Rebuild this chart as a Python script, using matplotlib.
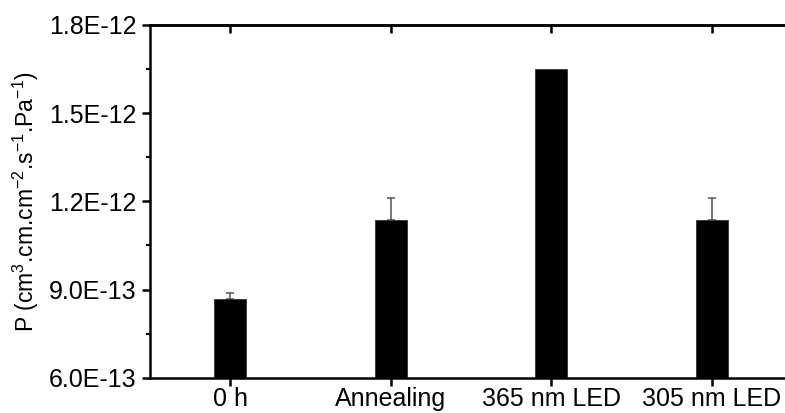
import matplotlib
matplotlib.use('Agg')
import matplotlib.pyplot as plt
from matplotlib.ticker import FixedLocator, FuncFormatter

plt.rcParams['font.family'] = ['Liberation Sans', 'DejaVu Sans']
plt.rcParams['mathtext.fontset'] = 'custom'
plt.rcParams['mathtext.rm'] = 'Liberation Sans'

categories = ['0 h', 'Annealing', '365 nm LED', '305 nm LED']
values = [8.67e-13, 1.137e-12, 1.65e-12, 1.137e-12]
err_upper = [2.0e-14, 7.6e-14, 0.0, 7.6e-14]
yticks = [6e-13, 9e-13, 1.2e-12, 1.5e-12, 1.8e-12]
yminor = [7.5e-13, 1.05e-12, 1.35e-12, 1.65e-12]

fig = plt.figure(figsize=(7.85, 4.13), dpi=100)
ax = fig.add_axes([150 / 785, 35.3 / 413, 642 / 785, 352.7 / 413])

x = list(range(1, len(categories) + 1))
ax.bar(x, values, width=0.2, color='black', edgecolor='#333333', linewidth=0.6, zorder=2)

# only the bars that have an error bar
ex = [xi for xi, e in zip(x, err_upper) if e > 0]
ev = [v for v, e in zip(values, err_upper) if e > 0]
ee = [e for e in err_upper if e > 0]
ax.errorbar(ex, ev, yerr=[[0] * len(ee), ee], fmt='none',
            ecolor='#555555', elinewidth=1.1, capsize=3, capthick=1.1, zorder=1)

ax.set_xlim(0.5, 4.5)
ax.set_ylim(yticks[0], yticks[-1])
ax.set_xticks(x)
ax.set_xticklabels(categories)
ax.yaxis.set_major_locator(FixedLocator(yticks))
ax.yaxis.set_minor_locator(FixedLocator(yminor))
ax.yaxis.set_major_formatter(FuncFormatter(lambda v, p: f'{v:.1E}'))

ax.tick_params(axis='both', which='major', labelsize=18, direction='out', length=6, width=1.8)
ax.tick_params(axis='y', which='minor', direction='out', length=3, width=1.5)
ax.tick_params(axis='x', pad=1)

top = ax.secondary_xaxis('top')
top.set_xticks(x)
top.set_xticklabels([])
top.tick_params(direction='in', length=6, width=1.8)
top.spines['top'].set_linewidth(1.8)

for s in ax.spines.values():
    s.set_linewidth(1.8)

ax.set_ylabel('P (cm$^{3}$.cm.cm$^{-2}$.s$^{-1}$.Pa$^{-1}$)', fontsize=16.5, labelpad=6)

fig.savefig('out.png', dpi=100)
